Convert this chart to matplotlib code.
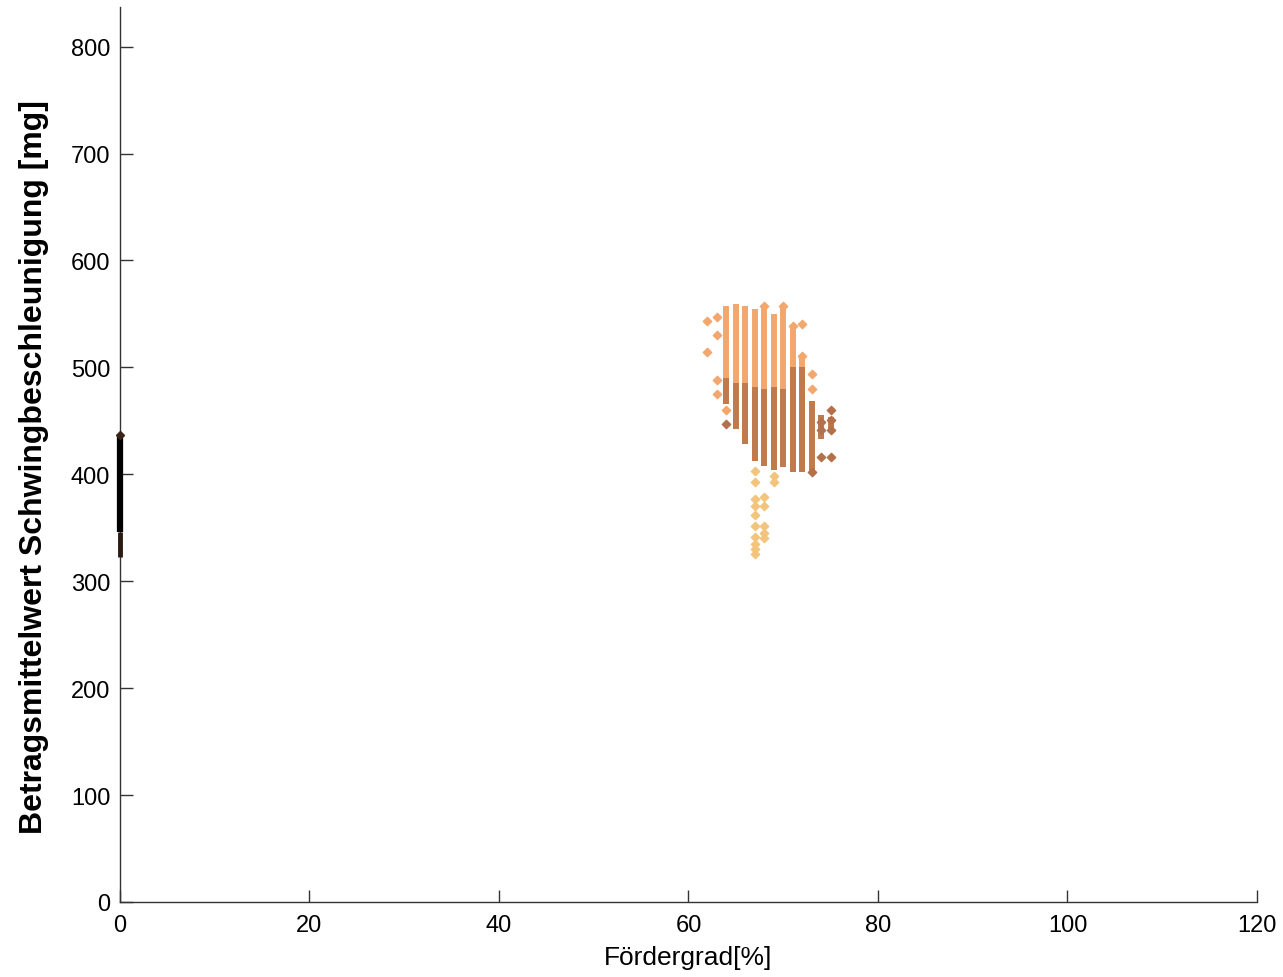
import matplotlib
matplotlib.use('Agg')
import matplotlib.pyplot as plt

plt.rcParams['font.family'] = ['Liberation Sans', 'DejaVu Sans']

# Fördergrad columns [%] with value spans [mg]: top, start of darker part, bottom
col_x = [64, 65, 66, 67, 68, 69, 70, 71, 72, 73, 74, 75]
col_top = [557, 559, 557, 555, 557, 550, 557, 539, 511, 469, 455, 454]
col_mid = [490, 485, 485, 482, 480, 482, 480, 500, 500, 469, 455, 454]
col_bot = [466, 442, 428, 412, 408, 404, 407, 402, 402, 402, 433, 440]

# isolated points, upper light group
pts_light_x = [62, 62, 63, 63, 63, 63, 64, 68, 70, 71, 72, 72, 73, 73]
pts_light_y = [543, 514, 547, 530, 488, 475, 460, 557, 557, 539, 541, 511, 494, 480]

# isolated points, dark group
pts_dark_x = [64, 74, 74, 74, 75, 75, 75, 75, 73]
pts_dark_y = [447, 449, 441, 416, 460, 451, 441, 416, 402]

# low yellow outliers
pts_low_x = [67, 67, 67, 67, 67, 67, 67, 67, 67, 67, 68, 68, 68, 68, 68, 69, 69]
pts_low_y = [403, 393, 377, 370, 362, 352, 341, 335, 330, 325, 379, 370, 352, 345, 340, 398, 393]

# Fördergrad 0 column
zero_top = 437
zero_mid = 346
zero_bot = 323

fig = plt.figure(figsize=(12.83, 9.78), dpi=100)
ax = fig.add_axes([0.0935, 0.0767, 0.8862, 0.9151])

c_light = '#f4a76c'
c_dark = '#c17a4c'
c_low = '#f2c47c'

ax.vlines(col_x, col_mid, col_top, colors=c_light, linewidth=4.3, zorder=2)
ax.vlines(col_x, col_bot, col_mid, colors=c_dark, linewidth=4.3, zorder=2)
ax.scatter(pts_light_x, pts_light_y, marker='D', s=18, color=c_light, zorder=3)
ax.scatter(pts_dark_x, pts_dark_y, marker='D', s=18, color='#b3704a', zorder=3)
ax.scatter(pts_low_x, pts_low_y, marker='D', s=18, color=c_low, zorder=3)

ax.vlines([0], zero_mid, zero_top, colors='black', linewidth=4.5, zorder=4, clip_on=False)
ax.vlines([0], zero_bot, zero_mid, colors='#2a1a12', linewidth=3.5, zorder=4, clip_on=False)
ax.plot([0], [zero_top], marker='D', ms=4, color='#3a2418', zorder=4, clip_on=False)

ax.set_xlim(0, 120)
ax.set_ylim(0, 837)
ax.set_xticks([0, 20, 40, 60, 80, 100, 120])
ax.set_yticks([0, 100, 200, 300, 400, 500, 600, 700, 800])

for s in ['top', 'right']:
    ax.spines[s].set_visible(False)
for s in ['left', 'bottom']:
    ax.spines[s].set_color('#333333')
    ax.spines[s].set_linewidth(1.0)
    ax.spines[s].set_zorder(1)

ax.tick_params(direction='in', length=9, width=1, labelsize=17, color='#333333', pad=7)
ax.tick_params(axis='x', pad=9)

ax.set_xlabel('Fördergrad[%]', fontsize=19, labelpad=6)
ax.set_ylabel('Betragsmittelwert Schwingbeschleunigung [mg]', fontsize=23,
              fontweight='bold')
ax.yaxis.set_label_coords(-0.062, 0.487)

fig.savefig('out.png', dpi=100)
